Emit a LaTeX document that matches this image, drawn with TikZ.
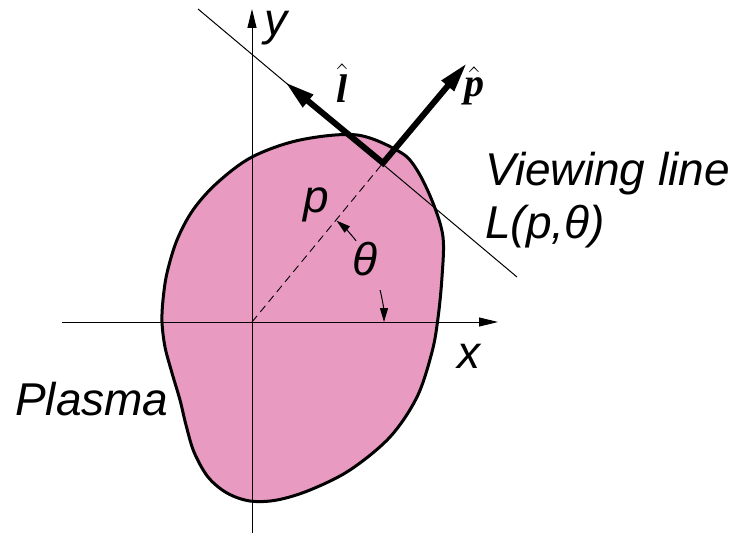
\documentclass[tikz,border=0pt]{standalone}
\usepackage{fix-cm}
\usepackage{amsmath}
\usepackage{fontspec}
\setmainfont{Liberation Sans}
\newfontfamily\hatfont{Liberation Serif}
\usetikzlibrary{arrows.meta,calc}
\definecolor{plasma}{RGB}{232,154,192}
\begin{document}
\begin{tikzpicture}[x=1pt,y=-1pt,
  lbl/.style={font=\fontsize{46}{50}\selectfont\itshape, inner sep=0pt},
  hatlbl/.style={font=\fontsize{40}{44}\selectfont, inner sep=0pt, anchor=base},
  axis/.style={line width=1pt, -{Triangle[length=19pt,width=9pt]}},
  thin/.style={line width=1pt},
  vec/.style={line width=6pt, line join=miter, {Triangle[length=30pt,width=15pt]}-{Triangle[length=30pt,width=15pt]}},
  angarrow/.style={line width=1pt, -{Triangle[length=14pt,width=8pt]}}]
\useasboundingbox (0,0) rectangle (736,535);
\coordinate (O) at (252,322);
\coordinate (F) at (383,163);
\coordinate (Xs) at (62,322);
\coordinate (Xe) at (498,322);
\coordinate (Ys) at (252,533);
\coordinate (Ye) at (252,9);
\coordinate (Vs) at (198,9);
\coordinate (Ve) at (517,277);
\coordinate (Lt) at (285,82);
\coordinate (Pt) at (467,63);
% plasma
\fill[plasma, draw=black, line width=3pt] plot[smooth cycle, tension=0.55] coordinates {
 (162,322) (163,300) (167,273) (177,240) (193,210) (217,183) (252,157) (300,140)
 (357,135) (400,152) (417,170) (433,203) (443,237) (442,277) (438,318) (432,352)
 (417,397) (390,437) (350,470) (310,490) (277,500) (250,501) (227,493) (208,477)
 (194,452) (186,425) (180,400) (172,373) (165,347)};
% axes
\draw[axis] (Xs) -- (Xe);
\draw[axis] (Ys) -- (Ye);
% viewing line
\draw[thin] (Vs) -- (Ve);
% p dashed
\draw[line width=0.9pt, dash pattern=on 8pt off 5pt] (O) -- (F);
% vectors
\draw[vec] (Lt) -- (F) -- (Pt);
% theta arrows
\draw[angarrow] ($(O)+(-38:132)$) arc[start angle=-38, end angle=-50.2, radius=132];
\draw[angarrow] ($(O)+(-14:132)$) arc[start angle=-14, end angle=0, radius=132];
% labels
\node[lbl, anchor=base] (ylab) at (276,36) {y};
\node[lbl, anchor=base] (xlab) at (469,368) {x};
\node[lbl, anchor=base] (plab) at (316,212) {p};
\node[lbl, anchor=base] (thlab) at (365,275) {θ};
\node[lbl, anchor=base west] (plasmalab) at (15,415) {Plasma};
\node[lbl, anchor=base west] (viewlab) at (485,185) {Viewing line};
\node[lbl, anchor=base west] (Llab) at (485,238) {L(p,θ)};
\node[hatlbl] (lhat) at (342,102) {$\hat{\text{\hatfont\bfseries\itshape l}}$};
\node[hatlbl] (phat) at (474,96) {$\hat{\text{\hatfont\bfseries\itshape p}}$};
\end{tikzpicture}
\end{document}
